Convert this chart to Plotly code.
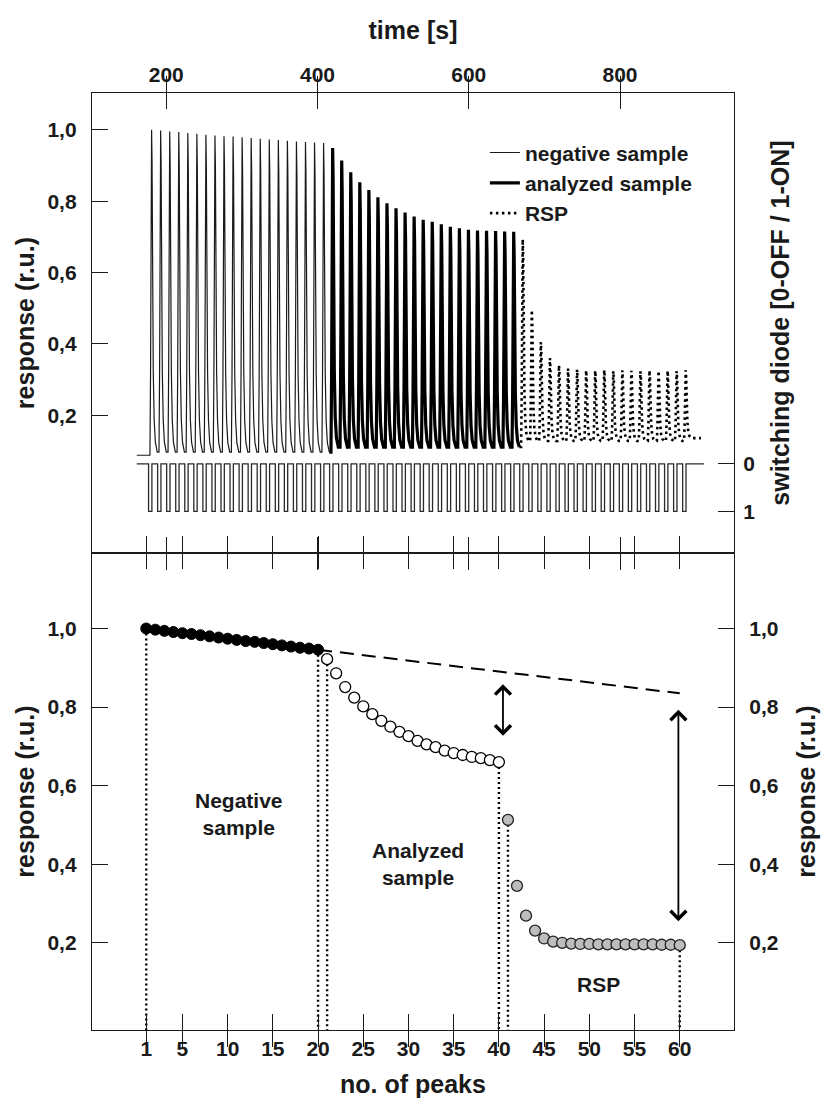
import numpy as np
import plotly.graph_objects as go

# ------------------------------------------------------------------
# TOP PANEL DATA  (time trace of the sensor response)
# ------------------------------------------------------------------
TIME_TICKS = [200, 400, 600, 800]
FIRST_PEAK_TIME = 180.6      # s, apex of first peak
PEAK_PERIOD = 11.97          # s between peaks
TRACE_START = 161.0
TRACE_END = 907.0
DIODE_START = 161.0
DIODE_END = 911.0

# peak apex heights
NEG_PEAKS = [1.000, 0.998, 0.995, 0.994, 0.991, 0.989, 0.986, 0.984, 0.982, 0.981,
             0.979, 0.977, 0.975, 0.973, 0.971, 0.969, 0.967, 0.966, 0.964, 0.963]
ANA_PEAKS = [0.949, 0.914, 0.881, 0.853, 0.831, 0.811, 0.794, 0.780, 0.768, 0.757,
             0.748, 0.742, 0.735, 0.728, 0.724, 0.720, 0.718, 0.717, 0.716, 0.715, 0.714]
RSP_PEAKS = [0.693, 0.495, 0.405, 0.360, 0.340, 0.331, 0.328, 0.326, 0.325, 0.327,
             0.324, 0.326, 0.325, 0.323, 0.326, 0.324, 0.325, 0.324, 0.326]

# trough (baseline) levels
BASE_START = 0.088
TROUGH_NEG = 0.097
TROUGH_ANA = 0.111
TROUGH_RSP = 0.128
TAIL_LEVEL = 0.136

# shape of one peak: time offset from apex (s) and fraction of peak amplitude
PEAK_SHAPE_DT = [-2.2, -1.4, -0.6, 0.0, 0.6, 1.3, 2.2, 3.4, 5.0, 7.5]
PEAK_SHAPE_FR = [0.0, 0.25, 0.85, 1.0, 0.9, 0.55, 0.25, 0.10, 0.03, 0.0]

# switching diode: ON window relative to the peak apex (s)
DIODE_ON_START = -4.0
DIODE_ON_END = 0.4

# ------------------------------------------------------------------
# BOTTOM PANEL DATA  (peak heights vs. peak number)
# ------------------------------------------------------------------
PEAK_TICKS = [1, 5, 10, 15, 20, 25, 30, 35, 40, 45, 50, 55, 60]
NEG_NO = list(range(1, 21))
ANA_NO = list(range(21, 41))
RSP_NO = list(range(41, 61))
NEG_RESP = [1.000, 0.997, 0.994, 0.991, 0.988, 0.986, 0.983, 0.980, 0.977, 0.974,
            0.971, 0.968, 0.966, 0.963, 0.960, 0.957, 0.954, 0.951, 0.949, 0.946]
ANA_RESP = [0.922, 0.886, 0.851, 0.824, 0.802, 0.782, 0.765, 0.750, 0.737, 0.726,
            0.714, 0.705, 0.698, 0.689, 0.683, 0.678, 0.673, 0.670, 0.665, 0.660]
RSP_RESP = [0.513, 0.345, 0.269, 0.231, 0.211, 0.203, 0.200, 0.198, 0.197, 0.197,
            0.196, 0.196, 0.196, 0.196, 0.196, 0.196, 0.196, 0.195, 0.195, 0.194]
TREND_NO = [20, 60]
TREND_RESP = [0.946, 0.835]
ARROW_NO = [40.45, 59.85]
ARROW_TOP = [0.862, 0.797]
ARROW_BOTTOM = [0.727, 0.255]
DROP_NO = [1, 20, 21, 40, 41, 60]

RESP_TICKS = [0.2, 0.4, 0.6, 0.8, 1.0]
RESP_TICKTEXT = ["0,2", "0,4", "0,6", "0,8", "1,0"]
DIODE_TICKS = [0, 1]

TOP_RANGE = [-0.186, 1.103]
DIODE_RANGE = [1.875, -7.79]
TIME_RANGE = [101.8, 950.7]
BOT_RANGE = [-0.022, 1.192]
NO_RANGE = [-5, 66]
SPLIT = 0.509

FONT = "Liberation Sans"
INK = "#1a1a1a"

# ------------------------------------------------------------------
# build the response waveform
# ------------------------------------------------------------------
heights = NEG_PEAKS + ANA_PEAKS + RSP_PEAKS
n_neg, n_ana = len(NEG_PEAKS), len(ANA_PEAKS)
post_levels = [TROUGH_NEG] * n_neg + [TROUGH_ANA] * n_ana + [TROUGH_RSP] * len(RSP_PEAKS)
post_levels[-1] = TAIL_LEVEL
tips = [FIRST_PEAK_TIME + PEAK_PERIOD * i for i in range(len(heights))]

segments = [([], []), ([], []), ([], [])]   # neg, ana, rsp
def seg_of(i):
    return 0 if i < n_neg else (1 if i < n_neg + n_ana else 2)

segments[0][0].append(TRACE_START)
segments[0][1].append(BASE_START)
pre = BASE_START
for i, (tp, h) in enumerate(zip(tips, heights)):
    s = seg_of(i)
    post = post_levels[i]
    xs, ys = segments[s]
    for dt, fr in zip(PEAK_SHAPE_DT, PEAK_SHAPE_FR):
        lo = pre if dt < 0 else post
        xs.append(tp + dt)
        ys.append(lo + fr * (h - lo))
    if i + 1 < len(heights) and seg_of(i + 1) != s:
        segments[s + 1][0].append(xs[-1])
        segments[s + 1][1].append(ys[-1])
    pre = post
segments[2][0].append(TRACE_END)
segments[2][1].append(TAIL_LEVEL)

# diode square wave
dx, dy = [DIODE_START], [0]
for tp in tips:
    dx += [tp + DIODE_ON_START, tp + DIODE_ON_START, tp + DIODE_ON_END, tp + DIODE_ON_END]
    dy += [0, 1, 1, 0]
dx.append(DIODE_END)
dy.append(0)

# ------------------------------------------------------------------
fig = go.Figure()

fig.add_trace(go.Scatter(x=segments[0][0], y=segments[0][1], mode="lines",
                         name="negative sample", line=dict(color=INK, width=1.2),
                         xaxis="x", yaxis="y"))
fig.add_trace(go.Scatter(x=segments[1][0], y=segments[1][1], mode="lines",
                         name="analyzed sample", line=dict(color="black", width=3.2),
                         xaxis="x", yaxis="y"))
fig.add_trace(go.Scatter(x=segments[2][0], y=segments[2][1], mode="lines",
                         name="RSP", line=dict(color="black", width=2.6, dash="2.5px,3.5px"),
                         xaxis="x", yaxis="y"))
fig.add_trace(go.Scatter(x=dx, y=dy, mode="lines", showlegend=False,
                         line=dict(color="#2a2a2a", width=1.3),
                         xaxis="x", yaxis="y2"))

# bottom panel: dotted drop lines
all_no = NEG_NO + ANA_NO + RSP_NO
all_resp = NEG_RESP + ANA_RESP + RSP_RESP
vx, vy = [], []
for n in DROP_NO:
    vx += [n, n, None]
    vy += [all_resp[all_no.index(n)], BOT_RANGE[0], None]
fig.add_trace(go.Scatter(x=vx, y=vy, mode="lines", showlegend=False,
                         line=dict(color="black", width=2.4, dash="2px,3px"),
                         xaxis="x2", yaxis="y3"))
fig.add_trace(go.Scatter(x=TREND_NO, y=TREND_RESP, mode="lines", showlegend=False,
                         line=dict(color="black", width=2, dash="14px,8px"),
                         xaxis="x2", yaxis="y3"))
fig.add_trace(go.Scatter(x=NEG_NO, y=NEG_RESP, mode="markers", showlegend=False,
                         marker=dict(size=11, color="black", line=dict(color="black", width=1)),
                         xaxis="x2", yaxis="y3"))
fig.add_trace(go.Scatter(x=ANA_NO, y=ANA_RESP, mode="markers", showlegend=False,
                         marker=dict(size=11, color="white", line=dict(color="black", width=1.3)),
                         xaxis="x2", yaxis="y3"))
fig.add_trace(go.Scatter(x=RSP_NO, y=RSP_RESP, mode="markers", showlegend=False,
                         marker=dict(size=11, color="#bdbdbd", line=dict(color="#222", width=1.3)),
                         xaxis="x2", yaxis="y3"))
fig.add_trace(go.Scatter(x=[None], y=[None], xaxis="x2", yaxis="y4", showlegend=False))

tickfont = dict(family=FONT, size=21, color=INK, weight="bold")
titlefont = dict(family=FONT, size=25, color=INK, weight="bold")
axis_common = dict(showline=True, linecolor=INK, linewidth=1.3, ticks="inside",
                   ticklen=16, tickwidth=1.2, tickcolor=INK, showgrid=False,
                   zeroline=False, tickfont=tickfont)

annotations = []
for xn, yt, yb in zip(ARROW_NO, ARROW_TOP, ARROW_BOTTOM):
    annotations.append(dict(x=xn, y=yb, ax=xn, ay=yt, xref="x2", yref="y3",
                            axref="x2", ayref="y3", text="", showarrow=True,
                            arrowhead=4, startarrowhead=4, arrowside="end+start",
                            arrowsize=1.7, startarrowsize=1.7, arrowwidth=1.8,
                            arrowcolor="black"))
lab_font = dict(family=FONT, size=21, color=INK, weight="bold")
annotations += [
    dict(x=11.25, y=0.528, xref="x2", yref="y3", text="Negative<br>sample",
         showarrow=False, font=lab_font),
    dict(x=31.1, y=0.400, xref="x2", yref="y3", text="Analyzed<br>sample",
         showarrow=False, font=lab_font),
    dict(x=51.0, y=0.095, xref="x2", yref="y3", text="RSP",
         showarrow=False, font=lab_font),
]

fig.update_layout(
    width=827, height=1106,
    margin=dict(l=92, r=89, t=93, b=68),
    paper_bgcolor="white", plot_bgcolor="white",
    font=dict(family=FONT, color=INK),
    xaxis=dict(axis_common, domain=[0, 1], anchor="y", side="top", range=TIME_RANGE,
               tickvals=TIME_TICKS, mirror="allticks", ticklabelstandoff=1,
               title=dict(text="time [s]", font=titlefont, standoff=16)),
    yaxis=dict(axis_common, domain=[SPLIT, 1], anchor="x", range=TOP_RANGE,
               tickvals=RESP_TICKS, ticktext=RESP_TICKTEXT, mirror=True,
               ticklabelstandoff=10,
               title=dict(text="response (r.u.)", font=titlefont, standoff=5)),
    yaxis2=dict(axis_common, overlaying="y", anchor="x", side="right", range=DIODE_RANGE,
                tickvals=DIODE_TICKS, ticklabelstandoff=4,
                title=dict(text="switching diode [0-OFF / 1-ON]", font=titlefont, standoff=17)),
    xaxis2=dict(axis_common, domain=[0, 1], anchor="y3", range=NO_RANGE,
                tickvals=PEAK_TICKS, mirror="allticks", ticklabelstandoff=0,
                title=dict(text="no. of peaks", font=titlefont, standoff=16)),
    yaxis3=dict(axis_common, domain=[0, SPLIT], anchor="x2", range=BOT_RANGE,
                tickvals=RESP_TICKS, ticktext=RESP_TICKTEXT, mirror=True,
                ticklabelstandoff=10,
                title=dict(text="response (r.u.)", font=titlefont, standoff=5)),
    yaxis4=dict(axis_common, overlaying="y3", anchor="x2", side="right", range=BOT_RANGE,
                tickvals=RESP_TICKS, ticktext=RESP_TICKTEXT, ticklabelstandoff=10,
                title=dict(text="response (r.u.)", font=titlefont, standoff=19)),
    legend=dict(x=0.612, y=0.958, xanchor="left", yanchor="top",
                font=dict(family=FONT, size=21, color=INK, weight="bold"),
                bgcolor="rgba(0,0,0,0)", tracegroupgap=0),
    annotations=annotations,
)

fig.write_html("out.html")
